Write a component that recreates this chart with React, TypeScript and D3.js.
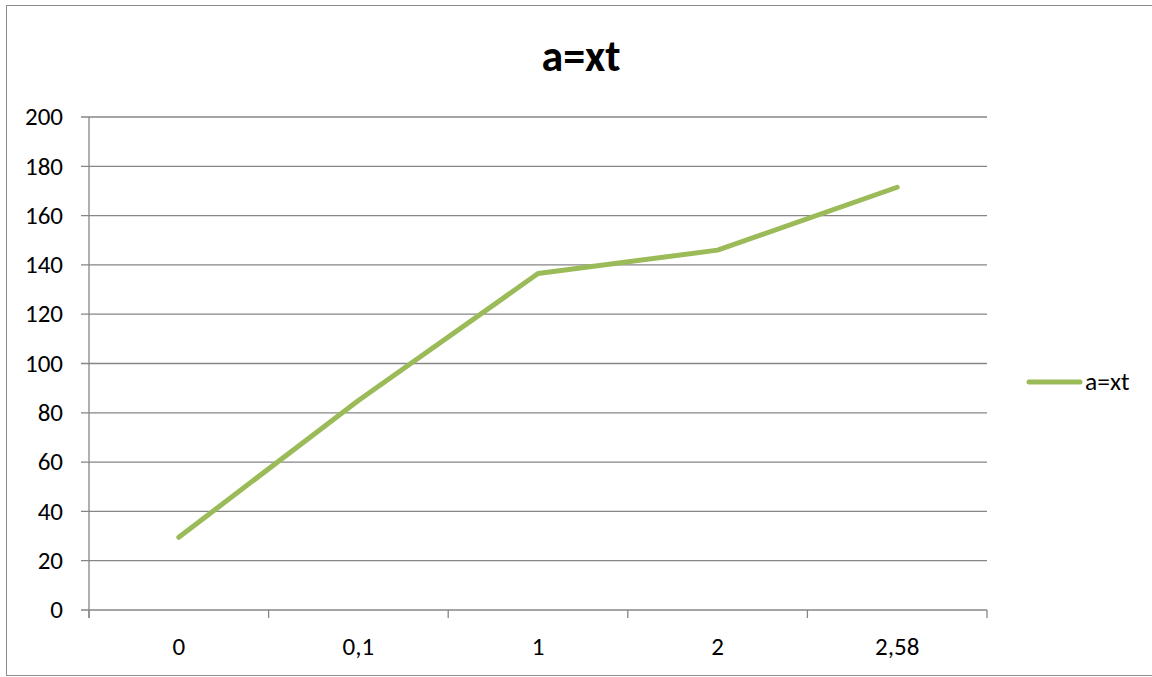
import React from "react";
import * as d3 from "d3";

const categories = ["0", "0,1", "1", "2", "2,58"];
const values = [29.5, 85, 136.5, 146, 171.5];
const yTicks = [0, 20, 40, 60, 80, 100, 120, 140, 160, 180, 200];
const seriesName = "a=xt";
const title = "a=xt";

export default function App() {
  const W = 1152, H = 677;
  const left = 89, right = 987, top = 117, bottom = 610;
  const x = d3.scaleBand().domain(categories).range([left, right]).paddingInner(0).paddingOuter(0);
  const y = d3.scaleLinear().domain([0, 200]).range([bottom, top]);
  const line = d3.line<number>().x((_, i) => (x(categories[i]) as number) + x.bandwidth() / 2).y((d) => y(d));
  const font = "Carlito, Lato, 'Open Sans', sans-serif";
  const grid = "#868686";
  const edges = categories.map((c) => x(c) as number).concat([right]);
  return (
    <svg width={W} height={H} style={{ position: "absolute", left: 0, top: 0 }}>
      <rect x={0} y={0} width={W} height={H} fill="#fff" />
      <rect x={6.5} y={5.5} width={W - 6} height={670} fill="none" stroke="#8c8c8c" strokeWidth={1} />
      <text x={581} y={71} textAnchor="middle" fontFamily={font} fontWeight="bold" fontSize={44} fill="#000">{title}</text>
      {yTicks.map((t) => (
        <g key={t}>
          <line x1={81} x2={right} y1={y(t)} y2={y(t)} stroke={grid} strokeWidth={1.3} />
          <text x={63} y={y(t)} dy="0.33em" textAnchor="end" fontFamily={font} fontSize={25} fill="#000">{t}</text>
        </g>
      ))}
      <line x1={left} x2={left} y1={top} y2={618} stroke={grid} strokeWidth={1.3} />
      {edges.map((e, i) => (
        <line key={i} x1={e} x2={e} y1={bottom} y2={618} stroke={grid} strokeWidth={1.3} />
      ))}
      {categories.map((c) => (
        <text key={c} x={(x(c) as number) + x.bandwidth() / 2} y={655} textAnchor="middle" fontFamily={font} fontSize={25} fill="#000">{c}</text>
      ))}
      <path d={line(values) || ""} fill="none" stroke="#9BBB59" strokeWidth={5} strokeLinecap="round" strokeLinejoin="round" />
      <line x1={1029} x2={1080} y1={382} y2={382} stroke="#9BBB59" strokeWidth={5} strokeLinecap="round" />
      <text x={1085} y={382} dy="0.33em" fontFamily={font} fontSize={25.5} fill="#000">{seriesName}</text>
    </svg>
  );
}
